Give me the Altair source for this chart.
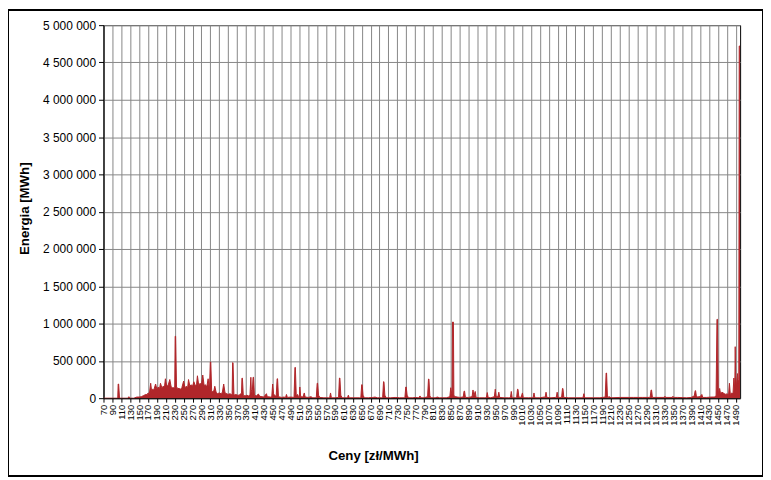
import altair as alt
import pandas as pd

# price points [zł/MWh] and energy [MWh]
prices = [70, 100, 102, 103, 104, 106, 125, 127, 129, 138, 140, 145, 150, 155, 160, 165, 168, 170, 173, 176,
          178, 180, 183, 187, 190, 193, 196, 198, 201, 204, 207, 209, 212, 215, 219, 222, 225, 228, 230, 231,
          232, 234, 237, 240, 243, 246, 250, 253, 256, 259, 261, 264, 267, 270, 273, 276, 279, 281, 284, 287,
          290, 293, 296, 299, 302, 305, 308, 310, 311, 313, 315, 318, 320, 323, 326, 330, 334, 337, 340, 343,
          347, 350, 354, 357, 359, 360, 361, 363, 367, 371, 375, 378, 380, 381, 382, 384, 388, 392, 396, 399,
          401, 402, 404, 406, 407, 409, 413, 418, 421, 426, 430, 436, 438, 445, 448, 450, 452, 455, 458, 460,
          461, 463, 470, 475, 479, 481, 483, 490, 498, 500, 501, 503, 506, 508, 510, 511, 513, 518, 521, 523,
          530, 536, 540, 548, 550, 551, 553, 556, 565, 575, 578, 580, 582, 590, 598, 600, 601, 603, 606, 615,
          618, 620, 622, 635, 645, 648, 650, 651, 653, 656, 665, 675, 680, 685, 695, 697, 699, 700, 702, 705,
          715, 725, 735, 745, 747, 749, 750, 752, 755, 765, 770, 778, 781, 783, 790, 798, 800, 801, 803, 806,
          815, 820, 825, 840, 848, 850, 852, 853, 854, 856, 857, 860, 865, 870, 878, 880, 881, 883, 890, 898,
          900, 902, 905, 907, 915, 925, 930, 932, 934, 940, 948, 950, 952, 956, 958, 960, 970, 980, 984, 986,
          988, 995, 998, 1000, 1001, 1003, 1008, 1011, 1013, 1025, 1035, 1037, 1039, 1050, 1060, 1062, 1064, 1066, 1075, 1085,
          1087, 1089, 1091, 1095, 1099, 1101, 1102, 1104, 1115, 1130, 1145, 1147, 1149, 1151, 1170, 1185, 1197, 1199, 1200, 1202,
          1206, 1210, 1230, 1260, 1280, 1296, 1298, 1300, 1301, 1303, 1320, 1330, 1331, 1333, 1348, 1349, 1351, 1360, 1380, 1390,
          1397, 1399, 1400, 1402, 1410, 1414, 1416, 1425, 1435, 1442, 1446, 1448, 1449, 1451, 1454, 1456, 1459, 1462, 1465, 1468,
          1471, 1474, 1476, 1478, 1481, 1484, 1486, 1488, 1489, 1490, 1492, 1494, 1496, 1497, 1498, 1500]

energy = [0, 0, 0, 190000, 190000, 0, 0, 20000, 0, 0, 5000, 15000, 15000, 20000, 35000, 50000, 45000, 70000, 60000, 200000,
          100000, 120000, 110000, 190000, 120000, 150000, 130000, 200000, 140000, 160000, 150000, 260000, 160000, 170000, 250000, 150000, 140000, 140000, 150000, 830000,
          830000, 150000, 130000, 130000, 120000, 140000, 230000, 140000, 160000, 140000, 250000, 160000, 180000, 160000, 220000, 170000, 180000, 300000, 170000, 200000,
          180000, 310000, 170000, 180000, 150000, 260000, 110000, 485000, 485000, 80000, 90000, 100000, 160000, 80000, 60000, 70000, 60000, 80000, 190000, 70000,
          60000, 50000, 60000, 50000, 50000, 475000, 475000, 40000, 50000, 40000, 40000, 60000, 60000, 268000, 268000, 40000, 30000, 40000, 30000, 40000,
          280000, 120000, 60000, 280000, 280000, 40000, 30000, 55000, 25000, 20000, 15000, 60000, 20000, 15000, 20000, 190000, 60000, 30000, 30000, 260000,
          260000, 20000, 10000, 15000, 10000, 50000, 10000, 15000, 10000, 412000, 412000, 30000, 50000, 20000, 20000, 150000, 20000, 15000, 70000, 15000,
          10000, 20000, 5000, 5000, 200000, 200000, 40000, 10000, 5000, 5000, 5000, 70000, 5000, 5000, 10000, 270000, 270000, 40000, 5000, 5000,
          5000, 40000, 5000, 5000, 5000, 5000, 180000, 180000, 40000, 5000, 5000, 10000, 15000, 5000, 5000, 5000, 220000, 220000, 40000, 5000,
          5000, 10000, 5000, 5000, 5000, 150000, 150000, 40000, 5000, 5000, 10000, 5000, 30000, 5000, 5000, 20000, 257000, 257000, 30000, 5000,
          5000, 15000, 5000, 5000, 20000, 140000, 60000, 60000, 1020000, 1020000, 40000, 20000, 15000, 10000, 15000, 95000, 95000, 10000, 10000, 20000,
          110000, 30000, 90000, 10000, 5000, 5000, 5000, 75000, 10000, 5000, 20000, 120000, 20000, 20000, 80000, 10000, 5000, 5000, 5000, 90000,
          5000, 5000, 10000, 120000, 120000, 15000, 10000, 70000, 5000, 5000, 5000, 70000, 5000, 5000, 15000, 10000, 80000, 10000, 5000, 10000,
          10000, 80000, 10000, 10000, 10000, 130000, 130000, 10000, 5000, 5000, 5000, 5000, 60000, 5000, 5000, 5000, 15000, 337000, 337000, 10000,
          20000, 5000, 10000, 10000, 10000, 10000, 15000, 110000, 110000, 10000, 10000, 10000, 25000, 10000, 10000, 25000, 10000, 10000, 5000, 10000,
          30000, 100000, 100000, 15000, 20000, 50000, 10000, 10000, 15000, 15000, 30000, 1057000, 1057000, 60000, 130000, 60000, 80000, 70000, 60000, 50000,
          60000, 40000, 200000, 50000, 70000, 60000, 270000, 100000, 690000, 300000, 150000, 330000, 200000, 250000, 4720000, 4720000]

x_ticks = list(range(70, 1491, 20))
y_ticks = list(range(0, 5000001, 500000))

df = pd.DataFrame({"cena": prices, "energia": energy})

FONT = "Liberation Sans, Arial, sans-serif"
RED = "#B0262A"

area = alt.Chart(df).mark_area(
    color=RED, opacity=1, interpolate="linear", clip=True,
    line={"color": RED, "strokeWidth": 1},
).encode(
    x=alt.X("cena:Q",
            scale=alt.Scale(domain=[70, 1500], nice=False, zero=False),
            axis=alt.Axis(values=x_ticks, format="d", title="Ceny [zł/MWh]", labelAngle=-90,
                          labelOverlap=False, labelFlush=False, labelFontSize=9.5, labelPadding=2,
                          tickSize=4, titleFontSize=13.3, titleFontWeight="bold", titleX=271,
                          titleY=62, titleAlign="center", titleBaseline="alphabetic", grid=True)),
    y=alt.Y("energia:Q",
            scale=alt.Scale(domain=[0, 5000000], nice=False),
            axis=alt.Axis(values=y_ticks, title="Energia [MWh]",
                          labelExpr="replace(format(datum.value, ','), regexp(',', 'g'), ' ')",
                          labelOverlap=False, labelFlush=False, labelFontSize=12, labelPadding=3,
                          tickSize=5, titleFontSize=13.3, titleFontWeight="bold", titleAngle=-90,
                          titleX=-75, titleY=184, titleAlign="center", titleBaseline="alphabetic",
                          grid=True)),
)

border = alt.Chart(df).mark_rect(fill=None, stroke="black", strokeWidth=1).encode(
    x=alt.value(-95.5), x2=alt.value(662.5), y=alt.value(-15.5), y2=alt.value(453.5)
)

chart = alt.layer(area, border).properties(
    width=640, height=375,
    autosize=alt.AutoSizeParams(type="none"),
    padding={"left": 96, "top": 16, "right": 23, "bottom": 79},
    background="white",
).configure_view(
    stroke="black", strokeWidth=1
).configure_axis(
    gridColor="#868686", gridWidth=1, gridOpacity=1,
    domainColor="black", tickColor="black",
    labelColor="black", titleColor="black",
    labelFont=FONT, titleFont=FONT,
)

chart.save("out.html", embed_options={"renderer": "svg", "actions": False})
